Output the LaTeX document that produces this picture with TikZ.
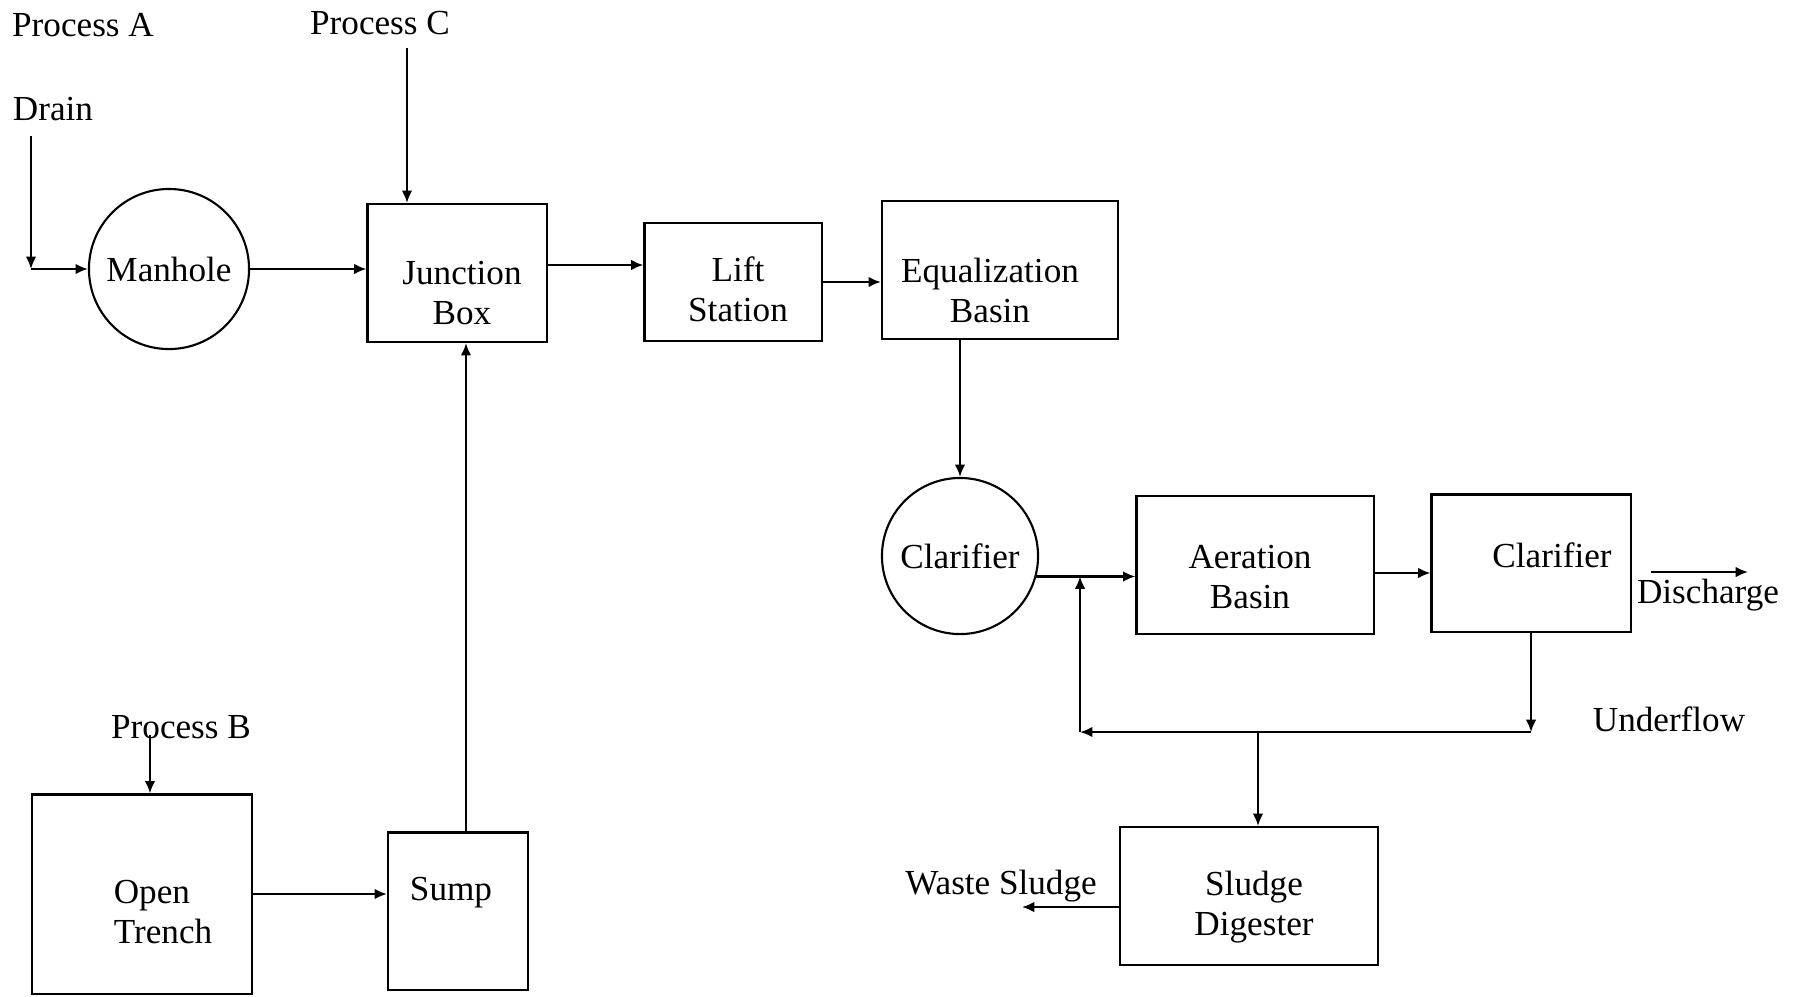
\documentclass[tikz,border=0pt]{standalone}
\usepackage{fontspec}
\setmainfont{Liberation Serif}
\usetikzlibrary{arrows.meta}
\begin{document}
\begin{tikzpicture}[x=0.01cm,y=-0.01cm,>={Latex[length=3.5pt,width=3pt]},line width=0.6pt,
        unit/.style={draw, rectangle, inner sep=0pt},
        tank/.style={draw, circle, inner sep=0pt},
        lbl/.style={align=center, font=\fontsize{10pt}{11.4pt}\selectfont}]
        \useasboundingbox (0,0) rectangle (1801,996);
        % plain labels
        \node (procA) at (83,25) {Process A};
        \node (procC) at (380,23) {Process C};
        \node (drain) at (53,109) {Drain};
        \node (procB) at (181,727) {Process B};
        \node (discharge) at (1708,595) {Discharge};
        \node (underflow) at (1669,719) {Underflow};
        \node (waste) at (1001,886) {Waste Sludge};

        % units
        \node (manhole) [tank, minimum size=1.6cm] at (169,269) {Manhole};
        \node (junction) [unit, minimum width=1.79cm, minimum height=1.38cm,
            label={[lbl, xshift=0.05cm, yshift=-0.2cm]center:{Junction\\Box}}] at (457,273) {};
        \node (lift) [unit, minimum width=1.77cm, minimum height=1.18cm,
            label={[lbl, xshift=0.05cm, yshift=-0.075cm]center:{Lift\\Station}}] at (733,282) {};
        \node (eq) [unit, minimum width=2.36cm, minimum height=1.38cm,
            label={[lbl, xshift=-0.1cm, yshift=-0.2cm]center:{Equalization\\Basin}}] at (1000,270) {};
        \node (clar1) [tank, minimum size=1.56cm] at (960,556) {Clarifier};
        \node (aeration) [unit, minimum width=2.37cm, minimum height=1.38cm,
            label={[lbl, xshift=-0.05cm, yshift=-0.12cm]center:{Aeration\\Basin}}] at (1255,565) {};
        \node (clar2) [unit, minimum width=1.99cm, minimum height=1.37cm,
            label={[lbl, xshift=0.21cm, yshift=0.08cm]center:Clarifier}] at (1531,563) {};
        \node (trench) [unit, minimum width=2.2cm, minimum height=1.99cm,
            label={[lbl, align=left, xshift=0.21cm, yshift=-0.18cm]center:{Open\\Trench}}] at (142,894) {};
        \node (sump) [unit, minimum width=1.4cm, minimum height=1.57cm,
            label={[lbl, xshift=-0.07cm, yshift=0.18cm]center:Sump}] at (458,911) {};
        \node (digester) [unit, minimum width=2.58cm, minimum height=1.38cm,
            label={[lbl, xshift=0.05cm, yshift=-0.115cm]center:{Sludge\\Digester}}] at (1249,896) {};

        % free ends and corners
        \coordinate (dtop) at (31,136);
        \coordinate (dcorner) at (31,269);
        \coordinate (cin) at (407,48);
        \coordinate (bin) at (150,735);
        \coordinate (dstart) at (1651,572);
        \coordinate (dend) at (1748,572);
        \coordinate (split) at (1258,732);
        \coordinate (ret) at (1080,732);
        \coordinate (wend) at (1022,907);

        \draw[->] (dtop) -- (dcorner);
        \draw[->] (dcorner) -- (manhole);
        \draw[->] (cin) -- (cin |- junction.north);
        \draw[->] (manhole.east) -- (manhole.east -| junction.west);
        \draw[->] ([yshift=0.08cm]junction.east) -- ([yshift=0.08cm]junction.east -| lift.west);
        \draw[->] (lift.east) -- (lift.east -| eq.west);
        \draw[->] (clar1.north |- eq.south) -- (clar1.north);
        \draw[->] (clar1.-15) -- (clar1.-15 -| aeration.west);
        \draw[->] ([yshift=-0.08cm]aeration.east) -- ([yshift=-0.08cm]aeration.east -| clar2.west);
        \draw[->] (dstart) -- (dend);
        \draw[->] (clar2.south) -- (clar2.south |- split);
        \draw[->] (clar2.south |- split) -- (ret);
        \draw[->] (ret) -- (ret |- clar1.-15);
        \draw[->] (split) -- (split |- digester.north);
        \draw[->] (digester.west |- wend) -- (wend);
        \draw[->] (bin) -- (bin |- trench.north);
        \draw[->] (trench.east) -- (trench.east -| sump.west);
        \draw[->] ([xshift=0.08cm]sump.north) -- ([xshift=0.08cm]sump.north |- junction.south);
    \end{tikzpicture}
\end{document}
